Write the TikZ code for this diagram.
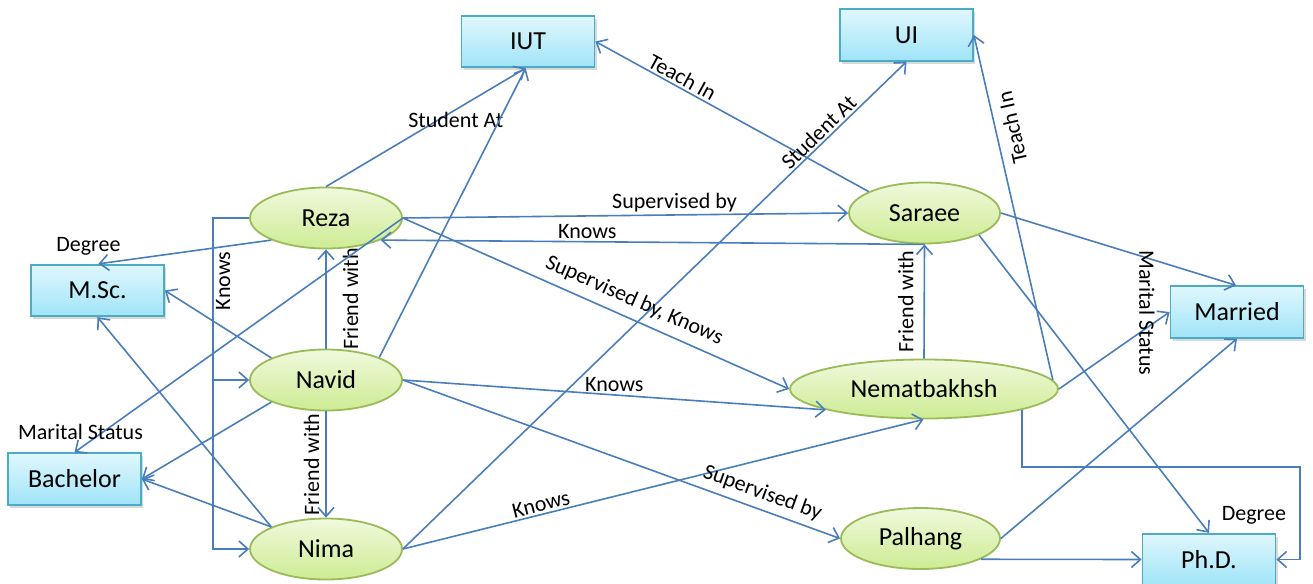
\documentclass[tikz,border=0pt]{standalone}
\usepackage{fontspec}
\setmainfont{Carlito}
\definecolor{linkblue}{HTML}{4A7EBB}
\definecolor{boxtop}{HTML}{E0F7FD}
\definecolor{boxbot}{HTML}{A0E4F8}
\definecolor{boxline}{HTML}{4BACC6}
\definecolor{ovaltop}{HTML}{F0F9DD}
\definecolor{ovalbot}{HTML}{CDEC93}
\definecolor{ovalline}{HTML}{9BBB59}
\usetikzlibrary{arrows.meta,shapes.geometric,shadows,calc}

\tikzset{
  entity/.style={rectangle, draw=boxline, line width=0.9pt, top color=boxtop, bottom color=boxbot,
    minimum width=66.5pt, minimum height=25.75pt, inner sep=0pt, font=\fontsize{13}{15}\selectfont,
    drop shadow={opacity=0.3, shadow xshift=1.2pt, shadow yshift=-1.5pt}},
  person/.style={ellipse, draw=ovalline, line width=0.9pt, top color=ovaltop, bottom color=ovalbot,
    minimum width=76pt, minimum height=30.5pt, inner sep=0pt, font=\fontsize{13}{15}\selectfont},
  rel/.style={draw=linkblue, line width=0.8pt, -{Straight Barb[length=4.5pt,width=8pt]}},
  lbl/.style={font=\fontsize{11}{13}\selectfont, inner sep=1pt}
}

\begin{document}
\begin{tikzpicture}[x=0.5pt,y=-0.5pt]
  \useasboundingbox (0,0) rectangle (1313,584);
  % places and degrees
  \node[entity] (iut) at (528,41.5) {IUT};
  \node[entity] (ui) at (906.5,35) {UI};
  \node[entity] (msc) at (97.5,290.5) {M.Sc.};
  \node[entity] (bachelor) at (74.5,479) {Bachelor};
  \node[entity] (married) at (1237,312) {Married};
  \node[entity] (phd) at (1209,559.5) {Ph.D.};
  % people
  \node[person] (reza) at (326,218) {Reza};
  \node[person] (navid) at (326,380) {Navid};
  \node[person] (nima) at (326,549) {Nima};
  \node[person, minimum width=75.5pt] (saraee) at (924.5,213) {Saraee};
  \node[person, minimum width=134pt, minimum height=29.5pt] (nemat) at (924,389) {Nematbakhsh};
  \node[person, minimum width=79.5pt] (palhang) at (920.5,538.5) {Palhang};

  % student / teach
  \draw[rel] (reza.north) -- node[lbl, pos=0.65, below] {Student At} (iut.265);
  \draw[rel] (navid.23) -- (iut.265);
  \draw[rel] (saraee.159) -- node[lbl, pos=0.7, sloped, above] {Teach In} (iut.east);
  \draw[rel] (nima.east) -- node[lbl, pos=0.84, sloped, above] {Student At} (ui.south);
  \draw[rel] (nemat.4) -- node[lbl, pos=0.72, sloped, allow upside down, below=3pt] {Teach In} (ui.east);

  % supervision and knows
  \draw[rel] (reza.east) -- node[lbl, pos=0.61, above] {Supervised by} (saraee.west);
  \draw[rel] (saraee.south) -- node[lbl, pos=0.62, above] {Knows} (reza.-22);
  \draw[rel] (reza.east) -- node[lbl, pos=0.58, sloped, above=3pt] {Supervised by, Knows} (nemat.west);
  \draw[rel] (navid.east) -- node[lbl, pos=0.5, above] {Knows} (nemat.192);
  \draw[rel] (nima.east) -- node[lbl, pos=0.27, sloped, above] {Knows} (nemat.-91);
  \draw[rel] (navid.east) -- node[lbl, pos=0.81, sloped, above=2pt] {Supervised by} (palhang.west);
  \coordinate (kt) at ([xshift=-18pt]reza.west);
  \draw[rel] (reza.west) -- (kt) -- node[lbl, pos=0.19, rotate=90, anchor=north] {Knows} (kt |- nima.west) -- (nima.west);
  \draw[rel] (kt) |- (navid.west);

  % friends
  \draw[rel] (nemat.north) -- node[lbl, midway, rotate=90, anchor=south, inner ysep=5pt] {Friend with} (saraee.south);
  \draw[rel] (navid.north) -- node[lbl, midway, rotate=90, anchor=north, inner ysep=8pt] {Friend with} (reza.south);
  \draw[rel] (navid.south) -- node[lbl, midway, rotate=90, anchor=south, inner ysep=3pt] {Friend with} (nima.north);

  % degrees
  \draw[rel] (reza.202) -- node[lbl, at end, above=3pt, xshift=-5pt] {Degree} (msc.88);
  \draw[rel] (navid.158) -- (msc.east);
  \draw[rel] (nima.158) -- (msc.south);
  \draw[rel] (saraee.-22) -- node[lbl, at end, anchor=south west, xshift=5pt, yshift=3pt] {Degree} (phd.north);
  \draw[rel] (palhang.-19) -- (phd.west);
  \coordinate (dg) at (1300,467);
  \draw[rel] (nemat.-12.5) |- (dg) |- (phd.east);

  % marital status
  \draw[rel] (reza.east) -- node[lbl, at end, above=5pt, xshift=3pt] {Marital Status} (bachelor.north);
  \draw[rel] (navid.202) -- (bachelor.east);
  \draw[rel] (nima.158) -- (bachelor.east);
  \draw[rel] (saraee.east) -- (married.92);
  \draw[rel] (nemat.east) -- (married.west);
  \draw[rel] (palhang.east) -- (married.south);
  \node[lbl, rotate=-90] (mstat) at (1147,313) {Marital Status};
\end{tikzpicture}
\end{document}
